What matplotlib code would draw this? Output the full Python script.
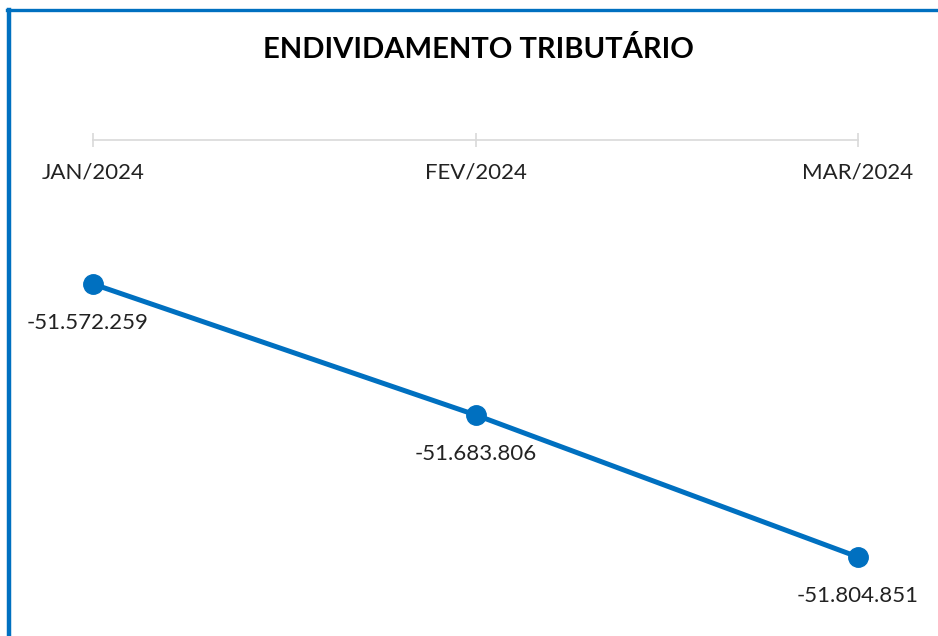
import matplotlib
matplotlib.use("Agg")
import matplotlib.pyplot as plt
from matplotlib.lines import Line2D

meses = ["JAN/2024", "FEV/2024", "MAR/2024"]
valores = [-51572259, -51683806, -51804851]

azul = "#0070C0"
cinza = "#D9D9D9"

plt.rcParams['font.family'] = ['Lato', 'DejaVu Sans']

W, H = 938, 636
fig = plt.figure(figsize=(W / 100, H / 100), dpi=100)
fig.patch.set_facecolor("white")

# axes placed so the x axis line sits near the top
ax = fig.add_axes([93 / W, 0, (858 - 93) / W, (H - 140) / H])
x = list(range(len(meses)))
ax.plot(x, valores, color=azul, lw=3.6, marker="o", ms=14, clip_on=False, zorder=3)
ax.set_xlim(0, len(meses) - 1)
ax.set_ylim(-51872160, -51449570)

for s in ["left", "right", "top"]:
    ax.spines[s].set_visible(False)
ax.spines["bottom"].set_position(("axes", 1.0))
ax.spines["bottom"].set_color(cinza)
ax.spines["bottom"].set_linewidth(1.2)
ax.set_xticks(x)
ax.set_xticklabels(meses)
ax.tick_params(axis="x", direction="inout", length=10, width=1.2, color=cinza,
               labelsize=16, labelcolor="#222222", pad=11)
ax.set_yticks([])
ax.patch.set_alpha(0)

for xi, v in zip(x, valores):
    txt = f"{v:,}".replace(",", ".")
    ax.annotate(txt, (xi, v), xytext=(-4 if xi == 0 else 0, -28), textcoords="offset points",
                ha="center", va="center", fontsize=16, color="#222222")

fig.text(478 / W, 1 - 50 / H, "ENDIVIDAMENTO TRIBUTÁRIO", ha="center", va="center",
         fontsize=21, fontweight="bold", color="black")

# blue frame (left and top)
fig.add_artist(Line2D([9 / W, 9 / W], [0, 1 - 10 / H], color=azul, lw=3.2, transform=fig.transFigure))
fig.add_artist(Line2D([7 / W, 1], [1 - 10 / H, 1 - 10 / H], color=azul, lw=2.4, transform=fig.transFigure))

fig.savefig("out.png", dpi=100)
